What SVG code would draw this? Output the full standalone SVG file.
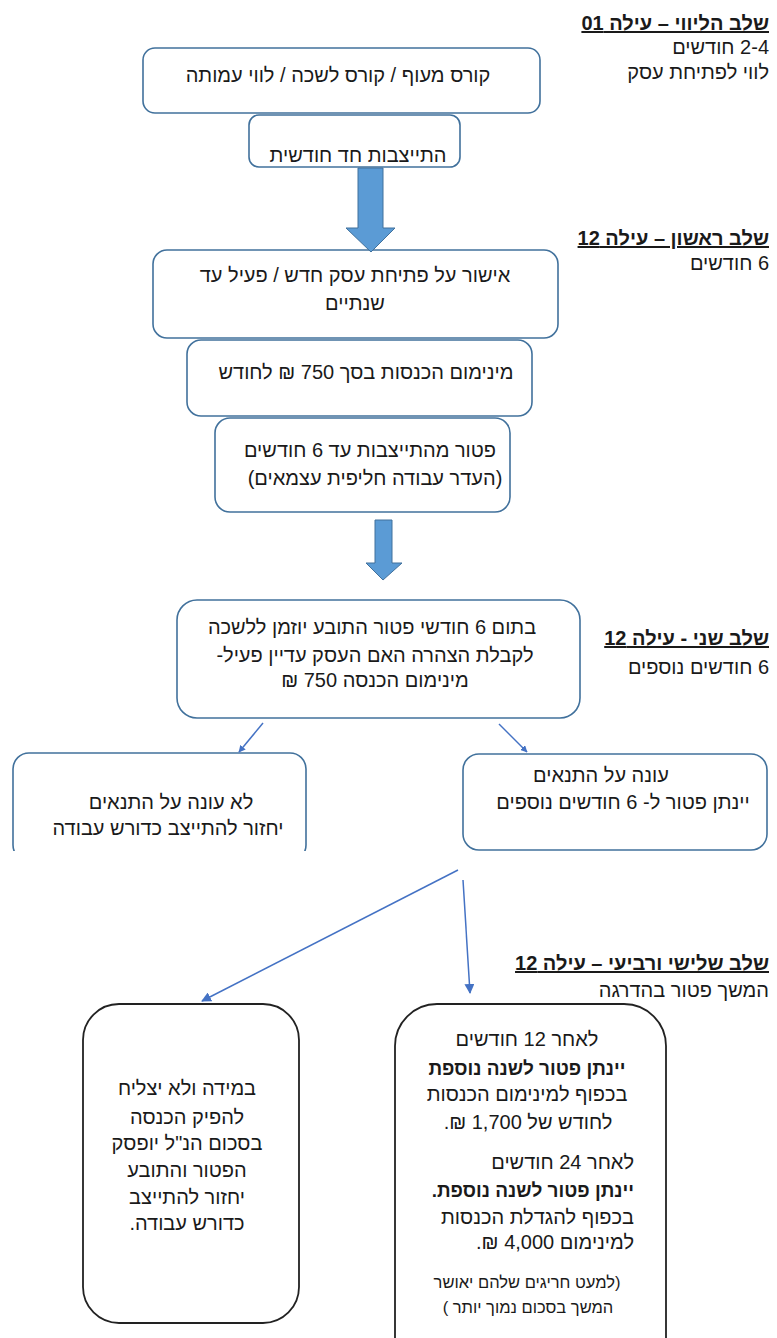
<svg xmlns="http://www.w3.org/2000/svg" width="777" height="1338" viewBox="0 0 777 1338">
<style>
text{font-family:"Liberation Sans","DejaVu Sans","Noto Sans",sans-serif;font-size:20px;fill:#1a1a1a;direction:rtl}
.c{text-anchor:middle}
.r{text-anchor:start}
.b{font-weight:bold;font-size:19px}
.u{font-weight:bold;text-decoration:underline}
.s{font-size:16.5px}
.box{fill:#fff;stroke:#41719C;stroke-width:1.6}
.bbox{fill:#fff;stroke:#222;stroke-width:1.8}
.big{fill:#5B9BD5;stroke:#41719C;stroke-width:1}
.con{stroke:#4472C4;stroke-width:1.5;fill:none;marker-end:url(#ah)}
</style>
<defs>
<marker id="ah" viewBox="0 0 10 10" refX="9" refY="5" markerWidth="7" markerHeight="7" markerUnits="userSpaceOnUse" orient="auto">
<path d="M0,0 L10,5 L0,10 z" fill="#4472C4"/>
</marker>
<marker id="ah2" viewBox="0 0 10 10" refX="9" refY="5" markerWidth="10" markerHeight="10" markerUnits="userSpaceOnUse" orient="auto">
<path d="M0,0 L10,5 L0,10 z" fill="#4472C4"/>
</marker>
<clipPath id="clipL"><rect x="0" y="740" width="330" height="111"/></clipPath>
</defs>
<rect width="777" height="1338" fill="#fff"/>

<g id="labels">
<text class="r u" x="769" y="30">שלב הליווי – עילה 01</text>
<text class="r" x="769" y="54">2-4 חודשים</text>
<text class="r" x="769" y="79">לווי לפתיחת עסק</text>
<text class="r u" x="769" y="245">שלב ראשון – עילה 12</text>
<text class="r" x="769" y="270">6 חודשים</text>
<text class="r u" x="769" y="645">שלב שני - עילה 12</text>
<text class="r" x="769" y="674">6 חודשים נוספים</text>
<text class="r u" x="769" y="970">שלב שלישי ורביעי – עילה 12</text>
<text class="r" x="769" y="997">המשך פטור בהדרגה</text>
</g>

<g id="n1">
<rect class="box" x="143" y="48" width="397" height="65" rx="12"/>
<text class="c" x="338" y="82">קורס מעוף / קורס לשכה / לווי עמותה</text>
</g>
<g id="n2">
<rect class="box" x="249" y="115" width="211" height="52" rx="10"/>
<text class="c" x="358" y="162">התייצבות חד חודשית</text>
</g>
<g id="n3">
<rect class="box" x="153" y="250" width="405" height="88" rx="14"/>
<text class="c" x="355" y="282">אישור על פתיחת עסק חדש / פעיל עד</text>
<text class="c" x="355" y="310">שנתיים</text>
</g>
<g id="n4">
<rect class="box" x="187" y="340" width="345" height="76" rx="14"/>
<text class="c" x="366" y="379">מינימום הכנסות בסך 750 ₪ לחודש</text>
</g>
<g id="n5">
<rect class="box" x="215" y="418" width="295" height="94" rx="15"/>
<text class="c" x="370" y="457">פטור מהתייצבות עד 6 חודשים</text>
<text class="c" x="375" y="485">(העדר עבודה חליפית עצמאים)</text>
</g>
<g id="n6">
<rect class="box" x="177" y="600" width="403" height="118" rx="20"/>
<text class="c" x="372" y="634">בתום 6 חודשי פטור התובע יוזמן ללשכה</text>
<text class="c" x="375" y="662">לקבלת הצהרה האם העסק עדיין פעיל-</text>
<text class="c" x="375" y="687">מינימום הכנסה 750 ₪</text>
</g>
<g id="n7">
<rect class="box" x="13" y="753" width="293" height="108" rx="16" clip-path="url(#clipL)"/>
<text class="c" x="171" y="809">לא עונה על התנאים</text>
<text class="c" x="168" y="835">יחזור להתייצב כדורש עבודה</text>
</g>
<g id="n8">
<rect class="box" x="463" y="754" width="304" height="96" rx="16"/>
<text class="c" x="601" y="782">עונה על  התנאים</text>
<text class="c" x="623" y="809">יינתן פטור ל- 6 חודשים נוספים</text>
</g>
<g id="n9">
<rect class="bbox" x="83" y="1004" width="216" height="319" rx="36"/>
<text class="c" x="187" y="1095">במידה ולא יצליח</text>
<text class="c" x="187" y="1124">להפיק הכנסה</text>
<text class="c" x="187" y="1150">בסכום הנ"ל יופסק</text>
<text class="c" x="187" y="1177">הפטור והתובע</text>
<text class="c" x="187" y="1204">יחזור להתייצב</text>
<text class="c" x="187" y="1230">כדורש עבודה.</text>
</g>
<g id="n10">
<rect class="bbox" x="395" y="1004" width="271" height="380" rx="42"/>
<text class="c" x="527" y="1046">לאחר 12 חודשים</text>
<text class="c b" x="527" y="1075">יינתן פטור לשנה נוספת</text>
<text class="c" x="527" y="1101">בכפוף למינימום הכנסות</text>
<text class="c" x="528" y="1129">לחודש של  1,700 ₪.</text>
<text class="r" x="634" y="1169">לאחר 24 חודשים</text>
<text class="r b" x="634" y="1197">יינתן פטור לשנה נוספת.</text>
<text class="r" x="634" y="1224">בכפוף להגדלת הכנסות</text>
<text class="r" x="634" y="1249">למינימום  4,000 ₪.</text>
<text class="c s" x="527" y="1288">(למעט חריגים שלהם יאושר</text>
<text class="c s" x="528" y="1313">המשך בסכום נמוך יותר )</text>
</g>

<g id="connectors">
<path class="big" d="M358,168 L383,168 L383,228 L395,228 L371,252 L346,228 L358,228 Z"/>
<path class="big" d="M375,520 L392,520 L392,563 L402,563 L383,580 L366,563 L375,563 Z"/>
<line class="con" x1="263" y1="723" x2="239" y2="752"/>
<line class="con" x1="499" y1="724" x2="527" y2="752"/>
<line class="con" x1="458" y1="870" x2="202" y2="1001" style="marker-end:url(#ah2)"/>
<line class="con" x1="463" y1="880" x2="470" y2="993" style="marker-end:url(#ah2)"/>
</g>
</svg>
